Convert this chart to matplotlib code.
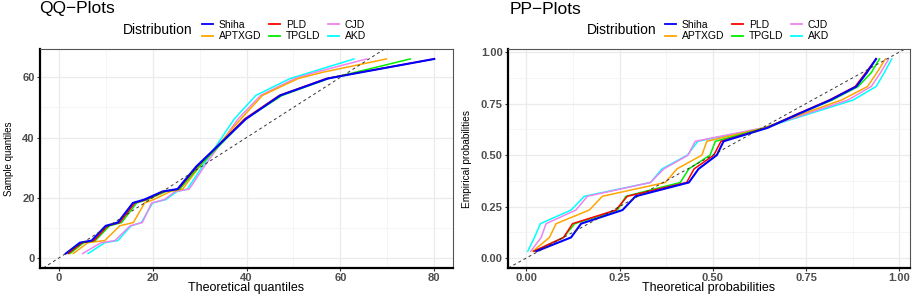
# -*- coding: utf-8 -*-
"""
QQ and PP plots for six fitted distributions
"""

import matplotlib
matplotlib.use("Agg")
import matplotlib.pyplot as plt
from matplotlib.ticker import MultipleLocator, AutoMinorLocator
from matplotlib.lines import Line2D

# ---------------------------------------------------------------- data
names = ["Shiha", "APTXGD", "PLD", "TPGLD", "CJD", "AKD"]
colors = {"Shiha": "#0000FF", "APTXGD": "#FFA500", "PLD": "#FF0000",
          "TPGLD": "#00EE00", "CJD": "#EE82EE", "AKD": "#00FFFF"}

# sorted sample (QQ y axis)
sample_q = [1.5, 5.1, 5.8, 10.7, 11.8, 18.3, 19.4, 22.1, 22.9, 30.4,
            46.2, 54.0, 59.6, 61.6, 66.1]

# theoretical quantiles (QQ x axis)
qq_shiha = [1.5, 4.5, 7.0, 10.0, 12.6, 15.8, 18.2, 22.1, 25.3, 29.3, 39.9, 47.2, 57.3, 64.2, 80.0]
qq_pld = [2.0, 5.0, 7.5, 10.4, 13.0, 16.2, 18.6, 22.4, 25.5, 29.5, 39.6, 47.0, 57.0, 64.0, 80.0]
qq_tpgld = [2.4, 5.3, 7.8, 10.8, 13.4, 16.6, 18.9, 22.8, 25.8, 29.9, 39.8, 47.6, 57.5, 63.0, 74.9]
qq_aptxgd = [3.1, 6.2, 9.8, 13.0, 15.9, 18.3, 20.2, 23.8, 26.4, 30.0, 38.8, 43.4, 51.0, 56.0, 69.8]
qq_cjd = [5.1, 9.0, 12.0, 15.2, 17.8, 19.8, 22.5, 24.8, 27.8, 31.0, 38.2, 43.0, 50.3, 54.5, 65.6]
qq_akd = [6.25, 9.8, 12.6, 15.4, 17.6, 20.0, 22.8, 25.2, 27.4, 30.6, 37.4, 42.0, 49.3, 53.5, 62.9]

# empirical probabilities (PP y axis)
emp_p = [0.033, 0.100, 0.167, 0.233, 0.300, 0.367, 0.433, 0.500, 0.567, 0.633,
         0.700, 0.767, 0.833, 0.900, 0.967]

# theoretical probabilities (PP x axis)
pp_shiha = [0.027, 0.120, 0.147, 0.258, 0.293, 0.436, 0.462, 0.511, 0.529, 0.648, 0.730, 0.815, 0.885, 0.913, 0.938]
pp_pld = [0.020, 0.100, 0.124, 0.240, 0.271, 0.430, 0.450, 0.503, 0.522, 0.645, 0.727, 0.812, 0.882, 0.910, 0.938]
pp_tpgld = [0.022, 0.100, 0.130, 0.245, 0.267, 0.413, 0.436, 0.493, 0.507, 0.643, 0.730, 0.820, 0.890, 0.925, 0.947]
pp_aptxgd = [0.018, 0.062, 0.080, 0.169, 0.204, 0.373, 0.404, 0.471, 0.484, 0.640, 0.740, 0.845, 0.915, 0.940, 0.963]
pp_cjd = [0.012, 0.040, 0.053, 0.133, 0.164, 0.333, 0.369, 0.434, 0.453, 0.637, 0.750, 0.862, 0.925, 0.950, 0.972]
pp_akd = [0.004, 0.022, 0.038, 0.120, 0.156, 0.333, 0.364, 0.432, 0.460, 0.640, 0.758, 0.876, 0.938, 0.960, 0.980]

qq = {"Shiha": qq_shiha, "PLD": qq_pld, "TPGLD": qq_tpgld,
      "APTXGD": qq_aptxgd, "CJD": qq_cjd, "AKD": qq_akd}
pp = {"Shiha": pp_shiha, "PLD": pp_pld, "TPGLD": pp_tpgld,
      "APTXGD": pp_aptxgd, "CJD": pp_cjd, "AKD": pp_akd}

# drawing order (Shiha on top)
draw_order = ["AKD", "CJD", "APTXGD", "TPGLD", "PLD", "Shiha"]

plt.rcParams["font.family"] = ["Liberation Sans", "DejaVu Sans"]

W, H = 915, 294
fig = plt.figure(figsize=(W / 100, H / 100), dpi=100)


def px(x, y, w, h):
    return [x / W, 1 - (y + h) / H, w / W, h / H]


def style_axes(ax, major, xlabel, ylabel, ylab_x, ylab_size):
    ax.margins(0.05)
    ax.xaxis.set_major_locator(MultipleLocator(major[0]))
    ax.yaxis.set_major_locator(MultipleLocator(major[1]))
    ax.xaxis.set_minor_locator(AutoMinorLocator(2))
    ax.yaxis.set_minor_locator(AutoMinorLocator(2))
    ax.grid(which="major", color="#EBEBEB", lw=0.9)
    ax.grid(which="minor", color="#F2F2F2", lw=0.5)
    ax.set_axisbelow(True)
    for s in ["top", "right"]:
        ax.spines[s].set_color("#555555")
        ax.spines[s].set_linewidth(0.8)
    for s in ["left", "bottom"]:
        ax.spines[s].set_color("black")
        ax.spines[s].set_linewidth(1.6)
    ax.tick_params(which="major", length=2.5, width=0.8, color="#333333",
                   labelsize=8, labelcolor="#4D4D4D", pad=1.2)
    ax.tick_params(which="minor", length=0)
    ax.set_xlabel(xlabel, fontsize=9)
    ax.xaxis.label.set_va("center")
    ax.xaxis.set_label_coords(0.5, -(287.5 - 268) / 219)
    ax.set_ylabel(ylabel, fontsize=ylab_size)
    ax.yaxis.label.set_va("center")
    ax.yaxis.label.set_ha("center")
    ax.yaxis.set_label_coords(ylab_x, 0.5)


def bold_ticks(ax):
    for lab in ax.get_xticklabels() + ax.get_yticklabels():
        lab.set_fontweight("bold")


def add_legend(cx, label_right):
    handles = [Line2D([], [], color=colors[n], lw=1.3) for n in names]
    fig.legend(handles, names, loc="center", bbox_to_anchor=(cx / W, 1 - 30.5 / H),
               ncol=3, frameon=False, fontsize=7.5, handlelength=1.05,
               handletextpad=0.6, columnspacing=0.7, labelspacing=0.15,
               borderpad=0, borderaxespad=0)
    fig.text(label_right / W, 1 - 30 / H, "Distribution", ha="right",
             va="center", fontsize=10)


# QQ plot
ax1 = fig.add_axes(px(40, 49, 413, 219))
for n in draw_order:
    ax1.plot(qq[n], sample_q, color=colors[n], lw=1.5 if n == "Shiha" else 1.1)
ax1.axline((0, 0), slope=1, color="#333333", lw=0.7, ls=(0, (3, 3)))
style_axes(ax1, (20, 20), "Theoretical quantiles", "Sample quantiles",
           (9.5 - 40) / 413, 7)
bold_ticks(ax1)
fig.text(39 / W, 1 - 9 / H, "QQ\u2212Plots", fontsize=12.5, va="center", ha="left")
add_legend(284, 193)

# PP plot
ax2 = fig.add_axes(px(508, 49, 402, 219))
for n in draw_order:
    ax2.plot(pp[n], emp_p, color=colors[n], lw=1.5 if n == "Shiha" else 1.1)
ax2.axline((0, 0), slope=1, color="#333333", lw=0.7, ls=(0, (3, 3)))
style_axes(ax2, (0.25, 0.25), "Theoretical probabilities", "Empirical probabilities",
           (467 - 508) / 402, 7.3)
ax2.xaxis.set_major_formatter(plt.FormatStrFormatter("%.2f"))
ax2.yaxis.set_major_formatter(plt.FormatStrFormatter("%.2f"))
bold_ticks(ax2)
fig.text(510 / W, 1 - 9 / H, "PP\u2212Plots", fontsize=12.5, va="center", ha="left")
add_legend(747, 657)

fig.savefig("out.png", dpi=100)
